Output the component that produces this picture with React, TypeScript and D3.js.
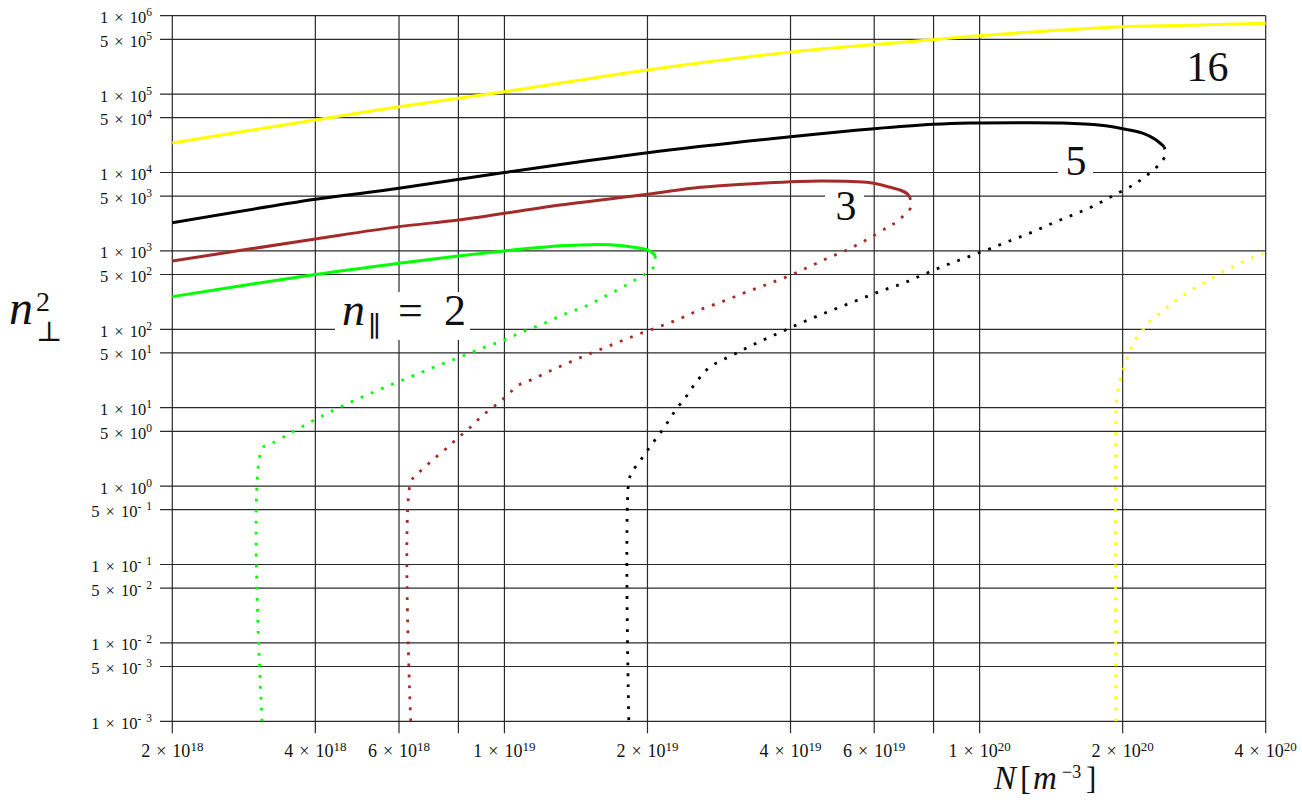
import React from 'react';
import * as d3 from 'd3';

type Pt = [number, number];

// grid / tick values
const xGrid = [2e18, 4e18, 6e18, 8e18, 1e19, 2e19, 4e19, 6e19, 8e19, 1e20, 2e20, 4e20];
const xLabeled = [2e18, 4e18, 6e18, 1e19, 2e19, 4e19, 6e19, 1e20, 2e20, 4e20];
const yGrid = [1e-3, 5e-3, 1e-2, 5e-2, 1e-1, 5e-1, 1, 5, 10, 50, 100, 500, 1e3, 5e3, 1e4, 5e4, 1e5, 5e5, 1e6];

// n_par = 2 (green)
const greenSolid: Pt[] = [
  [2e18, 261], [4e18, 500], [6e18, 695], [8e18, 861], [1e19, 1000], [1.31e19, 1160],
  [1.5e19, 1200], [1.67e19, 1195], [1.93e19, 1080], [2e19, 1030], [2.056e19, 931], [2.076e19, 861],
];
const greenDotted: Pt[] = [
  [2.076e19, 861], [2.069e19, 648], [1.988e19, 518], [1.893e19, 434], [1.804e19, 367], [1.637e19, 268],
  [1.486e19, 198], [1.342e19, 157], [1.212e19, 119], [1.093e19, 93], [9.87e18, 71], [8.89e18, 56],
  [8.04e18, 44], [7.24e18, 34.4], [6.54e18, 26.7], [5.91e18, 20.8], [5.33e18, 16], [4.81e18, 12.2],
  [4.36e18, 9.2], [3.95e18, 6.8], [3.58e18, 4.9], [3.24e18, 3.5], [3.09e18, 3.0], [3.09e18, 1e-3],
];

// n_par = 3 (brown)
const redSolid: Pt[] = [
  [2e18, 743], [4e18, 1420], [6e18, 2040], [8e18, 2480], [1.31e19, 3850], [2e19, 5270],
  [2.58e19, 6470], [3.45e19, 7280], [4.62e19, 7790], [5.89e19, 7410], [6.49e19, 6470],
  [6.8e19, 5980], [7.02e19, 5430], [7.13e19, 4830],
];
const redDotted: Pt[] = [
  [7.13e19, 4830], [7.18e19, 3660], [6.97e19, 2960], [6.7e19, 2360], [6.4e19, 2000], [5.81e19, 1410],
  [5.26e19, 1030], [4.76e19, 796], [4.32e19, 605], [3.9e19, 460], [3.51e19, 360], [3.18e19, 288],
  [2.86e19, 223], [2.57e19, 176], [2.33e19, 135], [2.1e19, 106], [1.89e19, 84], [1.71e19, 66],
  [1.54e19, 51], [1.39e19, 39.4], [1.25e19, 29.6], [1.136e19, 22.5], [1.079e19, 19.9], [1.034e19, 16.2],
  [9.92e18, 12.8], [9.53e18, 10.5], [9.11e18, 8.5], [8.75e18, 6.8], [8.4e18, 5.35], [8.04e18, 4.27],
  [7.75e18, 3.51], [7.44e18, 2.8], [7.12e18, 2.26], [6.84e18, 1.8], [6.56e18, 1.43], [6.35e18, 1.12],
  [6.35e18, 1e-3],
];

// n_par = 5 (black)
const blackSolid: Pt[] = [
  [2e18, 2290], [4e18, 4550], [6e18, 6280], [1e19, 10000], [2e19, 17900], [4e19, 28600],
  [6e19, 36200], [8e19, 41200], [9.56e19, 42800], [1.2e20, 43200], [1.49e20, 42800], [1.8e20, 40000],
  [2.0e20, 36200], [2.21e20, 31600], [2.34e20, 26500], [2.445e20, 21300],
];
const blackDotted: Pt[] = [
  [2.445e20, 21300], [2.46e20, 16700], [2.4e20, 13100], [2.31e20, 10500], [2.21e20, 8500], [2.11e20, 6990],
  [1.915e20, 5120], [1.738e20, 3740], [1.569e20, 2870], [1.422e20, 2250], [1.283e20, 1710], [1.156e20, 1340],
  [1.044e20, 1050], [9.41e19, 829], [8.51e19, 661], [7.66e19, 507], [6.9e19, 386], [6.23e19, 311],
  [5.61e19, 243], [5.07e19, 191], [4.575e19, 149], [4.13e19, 114.5], [3.73e19, 86.3], [3.37e19, 65.5],
  [3.055e19, 48.4], [2.77e19, 36.1], [2.65e19, 29.6], [2.56e19, 23], [2.475e19, 17.5], [2.4e19, 13.3],
  [2.32e19, 10.3], [2.246e19, 7.77], [2.18e19, 5.84], [2.11e19, 4.44], [2.046e19, 3.47], [1.98e19, 2.62],
  [1.92e19, 2.01], [1.857e19, 1.53], [1.827e19, 1.14], [1.827e19, 1e-3],
];

// n_par = 16 (yellow)
const yellowSolid: Pt[] = [
  [2e18, 23800], [4e18, 46800], [6e18, 69000], [1e19, 107000], [2e19, 203000], [4e19, 343000],
  [6.8e19, 455000], [1e20, 555000], [1.41e20, 644000], [2e20, 724000], [2.91e20, 761000], [4e20, 800000],
];
const yellowDotted: Pt[] = [
  [1.935e20, 1e-3], [1.935e20, 8.5], [1.94e20, 11.5], [1.953e20, 15.7], [1.977e20, 22], [2.007e20, 30],
  [2.042e20, 42], [2.085e20, 57], [2.138e20, 77], [2.211e20, 100], [2.287e20, 128], [2.389e20, 157],
  [2.495e20, 194], [2.607e20, 241], [2.723e20, 288], [2.859e20, 346], [3.0e20, 405], [3.135e20, 478],
  [3.29e20, 566], [3.47e20, 655], [3.65e20, 766], [3.84e20, 869], [3.95e20, 920],
];

const series = [
  {solid: yellowSolid, dotted: yellowDotted, color: '#ffff00'},
  {solid: blackSolid, dotted: blackDotted, color: '#000000'},
  {solid: redSolid, dotted: redDotted, color: '#a52a2a'},
  {solid: greenSolid, dotted: greenDotted, color: '#00ff00'},
];

const W = 1302;
const H = 800;
const left = 172.3, right = 1265.7, top = 15.7, bottom = 721.3;
const serif = '"Liberation Serif", "Times New Roman", Times, serif';
const symbolFont = '"DejaVu Serif", "DejaVu Sans", serif';

function splitSci(v: number) {
  const e = Math.floor(Math.log10(v) + 1e-9);
  const m = Math.round(v / Math.pow(10, e));
  return {m, e};
}

const App: React.FC = () => {
  const x = d3.scaleLog().domain([2e18, 4e20]).range([left, right]);
  const y = d3.scaleLog().domain([1e-3, 1e6]).range([bottom, top]);

  const line = d3.line<Pt>()
    .x(d => x(d[0]))
    .y(d => y(d[1]))
    .curve(d3.curveCatmullRom.alpha(0.5));

  return (
    <svg width={W} height={H}
         style={{position: 'fixed', left: 0, top: 0, background: '#fff', fontFamily: serif}}>
      <rect x={0} y={0} width={W} height={H} fill="#fff"/>

      {/* grid */}
      <g stroke="#2a2a2a" strokeWidth={1.2}>
        {yGrid.map(v => (
          <line key={'h' + v} x1={160} x2={right} y1={y(v)} y2={y(v)}/>
        ))}
        {xGrid.map(v => (
          <line key={'v' + v} x1={x(v)} x2={x(v)} y1={top} y2={bottom + 12}/>
        ))}
      </g>

      {/* y tick labels */}
      <g fontSize={16.5} fill="#111" textAnchor="end" wordSpacing={2} style={{fontFamily: serif}}>
        {yGrid.map(v => {
          const {m, e} = splitSci(v);
          return (
            <text key={'yl' + v} x={152} y={y(v) + 7.5}>
              {m} × 10<tspan dy={-7} fontSize={11.5}>{e < 0 ? '- ' + Math.abs(e) : e}</tspan>
            </text>
          );
        })}
      </g>

      {/* x tick labels */}
      <g fontSize={18} fill="#111" textAnchor="middle" wordSpacing={1.5} style={{fontFamily: serif}}>
        {xLabeled.map(v => {
          const {m, e} = splitSci(v);
          return (
            <text key={'xl' + v} x={x(v)} y={757}>
              {m} × 10<tspan dy={-6.5} fontSize={13}>{e}</tspan>
            </text>
          );
        })}
      </g>

      {/* curves */}
      {series.map((s, i) => (
        <g key={'s' + i} fill="none" stroke={s.color}>
          <path d={line(s.solid) ?? ''} strokeWidth={3}/>
          <path d={line(s.dotted) ?? ''} strokeWidth={2.8} strokeDasharray="2.8 8.2"/>
        </g>
      ))}

      {/* curve labels */}
      <g fill="#111" fontSize={42} style={{fontFamily: serif}}>
        <rect x={1183} y={44} width={50} height={44} fill="#fff"/>
        <text x={1207.5} y={81} textAnchor="middle">16</text>

        <rect x={1058} y={140} width={35} height={40} fill="#fff"/>
        <text x={1076} y={175} textAnchor="middle">5</text>

        <rect x={825} y={186} width={39} height={38} fill="#fff"/>
        <text x={846} y={220} textAnchor="middle">3</text>

        <rect x={335} y={292} width={135} height={48} fill="#fff"/>
        <text y={325}>
          <tspan x={342} fontStyle="italic" fontSize={46}>n</tspan>
          <tspan x={368} y={336} fontSize={28} style={{fontFamily: symbolFont}}>∥</tspan>
          <tspan x={398} y={325} fontSize={44}>=</tspan>
          <tspan x={444} y={325} fontSize={44}>2</tspan>
        </text>
      </g>

      {/* y axis title */}
      <text fill="#111" style={{fontFamily: serif}}>
        <tspan x={9} y={324} fontStyle="italic" fontSize={48}>n</tspan>
        <tspan x={36} y={311} fontSize={28}>2</tspan>
        <tspan x={36} y={341} fontSize={28} style={{fontFamily: symbolFont}}>⊥</tspan>
      </text>

      {/* x axis title */}
      <text fill="#111" fontSize={33} style={{fontFamily: serif}}>
        <tspan x={994} y={789} fontStyle="italic">N</tspan>
        <tspan x={1020} y={789}>[</tspan>
        <tspan x={1033} y={789} fontStyle="italic">m</tspan>
        <tspan x={1062} y={778} fontSize={18}>−3</tspan>
        <tspan x={1086} y={789} fontSize={31}>]</tspan>
      </text>
    </svg>
  );
};

export default App;
